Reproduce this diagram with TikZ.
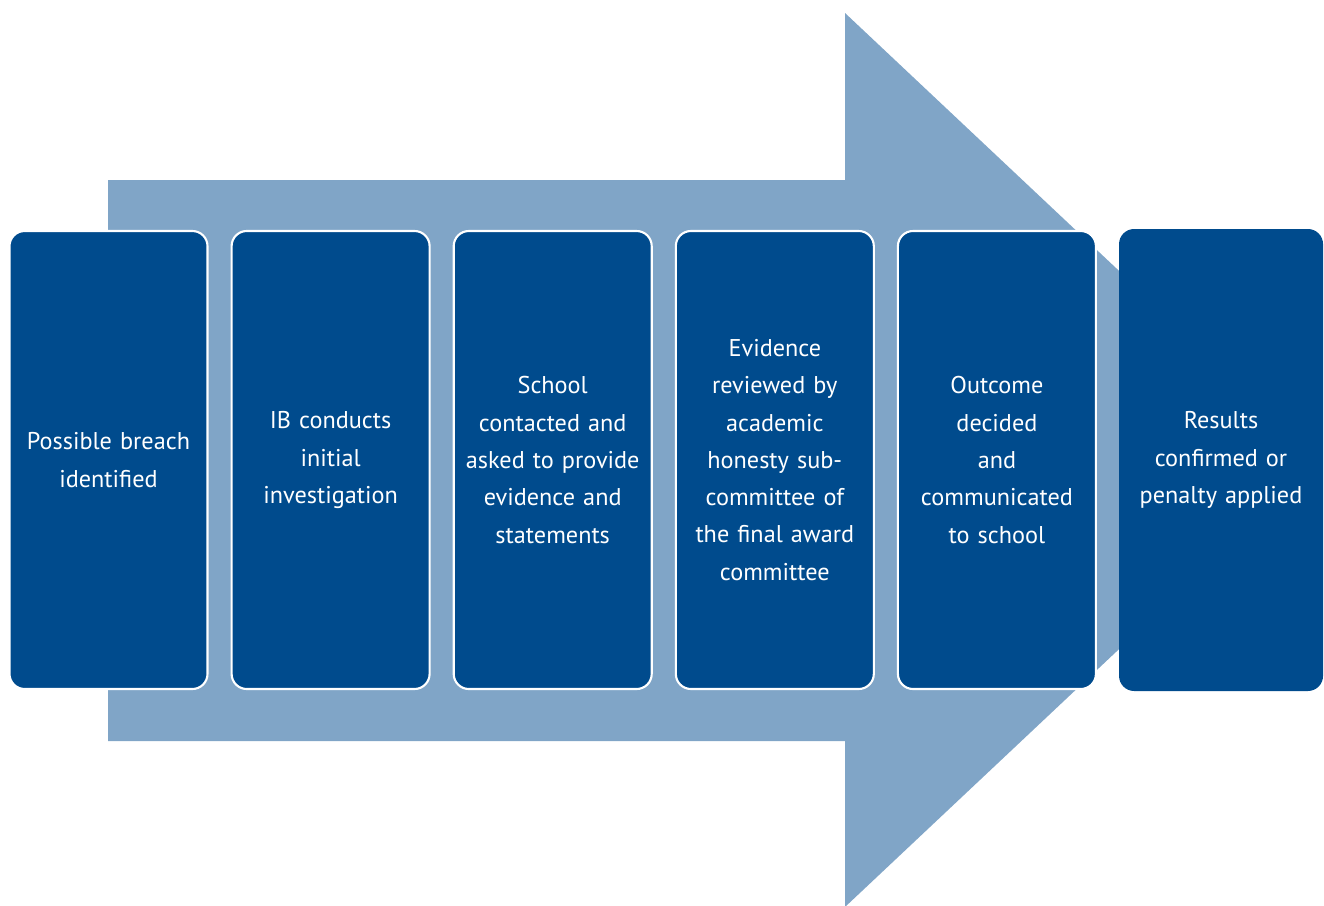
\documentclass[tikz,border=0pt]{standalone}
\usepackage{fontspec}
\setmainfont{PT Sans}
\usepackage{xcolor}
\usepackage{tikz}
\usetikzlibrary{positioning}
\definecolor{ibblue}{RGB}{0,75,141}
\definecolor{arrowblue}{RGB}{128,165,199}
\tikzset{
  stepbox/.style={rectangle, draw=white, fill=ibblue, text=white,
    inner xsep=0.04cm, text width=1.9cm, align=center, minimum height=4.58cm,
    font=\fontsize{6.9}{10.6}\selectfont, rounded corners=4.3pt, line width=0.6pt},
  laststep/.style={stepbox, draw=none, text width=1.96cm, minimum height=4.62cm}
}
\begin{document}
\begin{tikzpicture}[node distance=0.3cm and 0.22cm]
  \useasboundingbox (0,0) rectangle (13.24,9.05);

  % Background arrow
  \fill[arrowblue] (1.08,7.25) -- (8.45,7.25) -- (8.45,8.92) -- (13.20,4.45)
    -- (8.45,-0.02) -- (8.45,1.64) -- (1.08,1.64) -- cycle;

  % Process steps
  \node[stepbox] (breach) at (1.085,4.45) {Possible breach\\identified};
  \node[stepbox, right=of breach] (investig) {IB conducts\\initial\\investigation};
  \node[stepbox, right=of investig] (school) {School\\contacted and\\asked to provide\\evidence and\\statements};
  \node[stepbox, right=of school] (review) {Evidence\\reviewed by\\academic\\honesty sub-\\committee of\\the final award\\committee};
  \node[stepbox, right=of review] (outcome) {Outcome\\decided\\and\\communicated\\to school};
  \node[laststep, right=0.21cm of outcome] (results) {Results\\confirmed or\\penalty applied};
\end{tikzpicture}
\end{document}
